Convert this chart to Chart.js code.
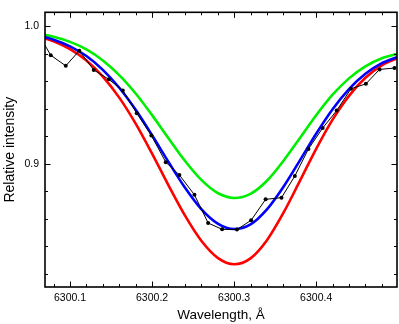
<!DOCTYPE html>
<html>
<head>
<meta charset="utf-8">
<script src="https://cdn.jsdelivr.net/npm/chart.js@4/dist/chart.umd.min.js"></script>
<style>
  html, body { margin: 0; padding: 0; background: #fff; }
  #wrap { width: 399px; height: 324px; }
</style>
</head>
<body>
<div id="wrap"><canvas id="c" width="399" height="324"></canvas></div>
<script>
// Wavelength grid for the model profiles (Å)
const wavelengths = [6300.06, 6300.08, 6300.10, 6300.12, 6300.14, 6300.16, 6300.18, 6300.20, 6300.22, 6300.24, 6300.26, 6300.28, 6300.30, 6300.32, 6300.34, 6300.36, 6300.38, 6300.40, 6300.42, 6300.44, 6300.46, 6300.48, 6300.50];
const greenProfile = [0.9947, 0.9922, 0.9885, 0.9830, 0.9750, 0.9644, 0.9510, 0.9353, 0.9185, 0.9021, 0.8882, 0.8787, 0.8751, 0.8781, 0.8876, 0.9020, 0.9185, 0.9352, 0.9501, 0.9620, 0.9707, 0.9766, 0.9801];
const blueProfile  = [0.9934, 0.9901, 0.9853, 0.9782, 0.9682, 0.9552, 0.9392, 0.9207, 0.9013, 0.8827, 0.8670, 0.8565, 0.8525, 0.8559, 0.8668, 0.8831, 0.9022, 0.9218, 0.9396, 0.9542, 0.9653, 0.9730, 0.9778];
const redProfile   = [0.9928, 0.9890, 0.9833, 0.9750, 0.9633, 0.9480, 0.9291, 0.9073, 0.8843, 0.8624, 0.8440, 0.8316, 0.8269, 0.8312, 0.8444, 0.8642, 0.8873, 0.9108, 0.9320, 0.9493, 0.9624, 0.9714, 0.9770];

// Observed spectrum (black points)
const obsWavelengths = [6300.0590, 6300.0765, 6300.0948, 6300.1113, 6300.1289, 6300.1472, 6300.1643, 6300.1813, 6300.1991, 6300.2167, 6300.2333, 6300.2516, 6300.2683, 6300.2854, 6300.3034, 6300.3207, 6300.3384, 6300.3577, 6300.3740, 6300.3906, 6300.4079, 6300.4250, 6300.4423, 6300.4606, 6300.4772, 6300.4954];
const obsIntensity   = [0.9967, 0.9788, 0.9711, 0.9821, 0.9681, 0.9613, 0.9532, 0.9367, 0.9205, 0.9011, 0.8918, 0.8774, 0.8569, 0.8523, 0.8521, 0.8589, 0.8741, 0.8753, 0.8911, 0.9107, 0.9259, 0.9386, 0.9544, 0.9580, 0.9685, 0.9695];

// Axis ticks
const xRange = [6300.0695, 6300.4985];
const yRange = [0.8104, 1.0100];
const xMinorStep = 0.02, xMajorStep = 0.1;
const yMinorStep = 0.02, yMajorStep = 0.1;

const FONT = "'Liberation Sans', Arial, Helvetica, sans-serif";

function isMajor(v, step) {
  const r = v / step;
  return Math.abs(r - Math.round(r)) < 1e-6;
}
function pts(xs, ys) { return xs.map((x, i) => ({ x: x, y: ys[i] })); }

const innerTicks = {
  id: 'innerTicks',
  afterDraw(chart) {
    const { ctx, chartArea: a, scales } = chart;
    const x = scales.x, y = scales.y;
    ctx.save();
    ctx.strokeStyle = '#000';
    ctx.lineWidth = 1;
    ctx.beginPath();
    x.ticks.forEach(t => {
      const px = Math.round(x.getPixelForValue(t.value)) + 0.5;
      const len = isMajor(t.value, xMajorStep) ? 5.5 : 3;
      ctx.moveTo(px, a.bottom); ctx.lineTo(px, a.bottom - len);
      ctx.moveTo(px, a.top); ctx.lineTo(px, a.top + len);
    });
    y.ticks.forEach(t => {
      const py = Math.round(y.getPixelForValue(t.value)) + 0.5;
      const len = isMajor(t.value, yMajorStep) ? 5.5 : 3;
      ctx.moveTo(a.left, py); ctx.lineTo(a.left + len, py);
      ctx.moveTo(a.right, py); ctx.lineTo(a.right - len, py);
    });
    ctx.stroke();
    ctx.lineWidth = 1.6;
    ctx.strokeRect(a.left, a.top, a.right - a.left, a.bottom - a.top);
    ctx.restore();
  }
};

const curveStyle = (color) => ({
  borderColor: color, backgroundColor: color, borderWidth: 2.6,
  pointRadius: 0, showLine: true, fill: false,
  cubicInterpolationMode: 'monotone'
});

new Chart(document.getElementById('c'), {
  type: 'scatter',
  data: {
    datasets: [
      {
        label: 'Observed',
        data: pts(obsWavelengths, obsIntensity),
        borderColor: '#000', backgroundColor: '#000', borderWidth: 1,
        pointRadius: 2, pointHoverRadius: 2, pointBorderWidth: 0,
        showLine: true, tension: 0, fill: false
      },
      Object.assign({ label: 'Blue', data: pts(wavelengths, blueProfile) }, curveStyle('#0000ff')),
      Object.assign({ label: 'Green', data: pts(wavelengths, greenProfile) }, curveStyle('#00ee00')),
      Object.assign({ label: 'Red', data: pts(wavelengths, redProfile) }, curveStyle('#ff0000'))
    ]
  },
  plugins: [innerTicks],
  options: {
    responsive: false,
    animation: false,
    devicePixelRatio: 1,
    layout: { padding: { left: 0, right: 1, top: 1, bottom: 0 } },
    plugins: { legend: { display: false }, tooltip: { enabled: false } },
    scales: {
      x: {
        type: 'linear',
        min: xRange[0], max: xRange[1],
        grid: { display: false, drawTicks: false },
        border: { display: false },
        ticks: {
          stepSize: xMinorStep, autoSkip: false, includeBounds: false,
          maxRotation: 0, minRotation: 0, padding: 5,
          color: '#000', font: { family: FONT, size: 10.5 },
          callback: (v) => isMajor(v, xMajorStep) ? Number(v).toFixed(1) : ''
        },
        title: {
          display: true, text: 'Wavelength, Å', color: '#000',
          font: { family: FONT, size: 13.5 }, padding: { top: 0, bottom: 1 }
        },
        afterFit: (s) => { s.height = 37; }
      },
      y: {
        type: 'linear',
        min: yRange[0], max: yRange[1],
        grid: { display: false, drawTicks: false },
        border: { display: false },
        ticks: {
          stepSize: yMinorStep, autoSkip: false, includeBounds: false, padding: 6,
          color: '#000', font: { family: FONT, size: 10.5 },
          callback: (v) => isMajor(v, yMajorStep) ? Number(v).toFixed(1) : ''
        },
        title: {
          display: true, text: 'Relative intensity', color: '#000',
          font: { family: FONT, size: 14 }, padding: { top: 2, bottom: 0 }
        },
        afterFit: (s) => { s.width = 45; }
      }
    }
  }
});
</script>
</body>
</html>
